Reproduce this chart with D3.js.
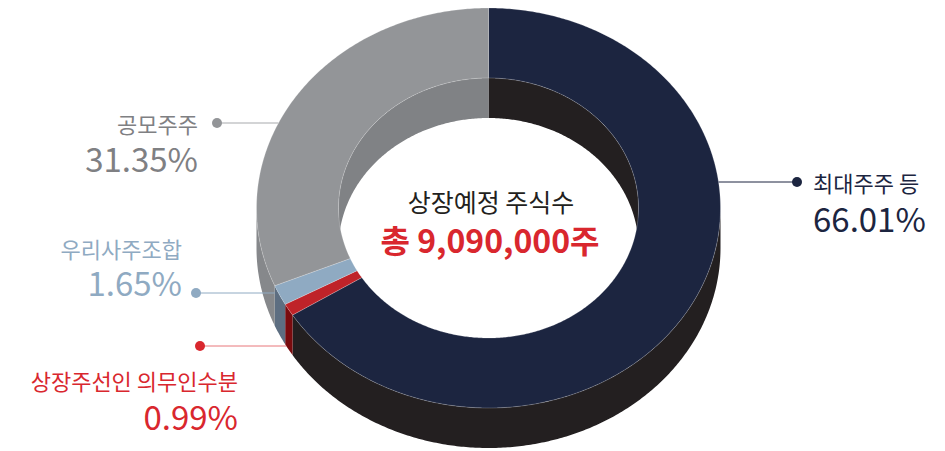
<!DOCTYPE html>
<html>
<head>
<meta charset="utf-8">
<script src="https://cdn.jsdelivr.net/npm/d3@7"></script>
<style>
  body { margin: 0; background: #fff; }
  svg { display: block; font-family: "Noto Sans CJK KR", "Noto Sans", sans-serif; }
</style>
</head>
<body>
<div id="chart"></div>
<script>
// data
const categories = ["최대주주 등", "상장주선인 의무인수분", "우리사주조합", "공모주주"];
const shares = [66.01, 0.99, 1.65, 31.35];   // percent
const centerTitle = "상장예정 주식수";
const totalShares = 9090000;

const width = 945, height = 451;

// ellipse geometry of the tilted donut
const cx = 488.5, cy = 208;
const rx = 232, ry = 200;      // outer
const irx = 150, iry = 130;    // inner
const depth = 40;

// colours
const topColor   = d3.scaleOrdinal(categories, ["#1c2540", "#bf2329", "#8faac2", "#939598"]);
const wallColor  = d3.scaleOrdinal(categories, ["#231f20", "#7a0b0e", "#5d6e81", "#86888b"]);
const innerColor = d3.scaleOrdinal(categories, ["#231f20", "#7a0b0e", "#5d6e81", "#808285"]);
const textColor  = d3.scaleOrdinal(categories, ["#1c2540", "#d9272e", "#8faac2", "#7f8083"]);
const lineColor  = d3.scaleOrdinal(categories, ["#1c2540", "#e8777b", "#8faac2", "#a7a9ac"]);
const dotColor   = d3.scaleOrdinal(categories, ["#1c2540", "#d9272e", "#8faac2", "#939598"]);

// where each label sits (layout only)
const labelLayout = [
  { dot: [797, 182], side: 1,  tx: 813, ty: 192, vy: 232 },
  { dot: [200, 346], side: -1, tx: 238, ty: 390, vy: 430 },
  { dot: [196, 293], side: -1, tx: 182, ty: 258, vy: 296 },
  { dot: [217, 123], side: -1, tx: 198, ty: 133, vy: 172 }
];

const svg = d3.select("#chart").append("svg")
  .attr("width", width)
  .attr("height", height)
  .attr("viewBox", [0, 0, width, height]);

const pie = d3.pie().sort(null).startAngle(0).endAngle(2 * Math.PI);
const arcs = pie(shares).map((d, i) => ({ ...d, name: categories[i] }));

// point on an ellipse, angle clockwise from 12 o'clock
const pt = (a, rX, rY, dy = 0) => [cx + rX * Math.sin(a), cy - rY * Math.cos(a) + dy];
function arcPts(a0, a1, rX, rY, dy) {
  const n = Math.max(2, Math.ceil((a1 - a0) / 0.01));
  return d3.range(n + 1).map(i => pt(a0 + (a1 - a0) * i / n, rX, rY, dy));
}
const line = d3.line();

function wall(a0, a1, rX, rY) {
  return line([...arcPts(a0, a1, rX, rY, 0), ...arcPts(a0, a1, rX, rY, depth).reverse()]) + "Z";
}
function topFace(a0, a1) {
  return line([...arcPts(a0, a1, rx, ry, 0), ...arcPts(a0, a1, irx, iry, 0).reverse()]) + "Z";
}
function clip(a0, a1, lo, hi) {
  const s = Math.max(a0, lo), e = Math.min(a1, hi);
  return s < e ? [s, e] : null;
}

const PI = Math.PI;

// far inner wall (seen through the hole)
const gInner = svg.append("g");
arcs.forEach(d => {
  [[0, PI / 2], [3 * PI / 2, 2 * PI]].forEach(([lo, hi]) => {
    const c = clip(d.startAngle, d.endAngle, lo, hi);
    if (c) gInner.append("path").attr("d", wall(c[0], c[1], irx, iry)).attr("fill", innerColor(d.name));
  });
});

// near outer wall
const gWall = svg.append("g");
arcs.forEach(d => {
  const c = clip(d.startAngle, d.endAngle, PI / 2, 3 * PI / 2);
  if (c) gWall.append("path").attr("d", wall(c[0], c[1], rx, ry)).attr("fill", wallColor(d.name));
});

// top faces
svg.append("g")
  .selectAll("path")
  .data(arcs)
  .join("path")
  .attr("d", d => topFace(d.startAngle, d.endAngle))
  .attr("fill", d => topColor(d.name))
  .attr("stroke", "rgba(255,255,255,0.35)")
  .attr("stroke-width", 0.6);

// outline of the whole shape on the left/right
function silhouetteX(y, side) {
  let k = 1;
  if (y < cy) k = Math.sqrt(Math.max(0, 1 - ((y - cy) / ry) ** 2));
  else if (y > cy + depth) k = Math.sqrt(Math.max(0, 1 - ((y - cy - depth) / ry) ** 2));
  return cx + side * rx * k;
}
function sliceExtremeX(d, side) {
  const xs = d3.range(0, 101).map(i => cx + rx * Math.sin(d.startAngle + (d.endAngle - d.startAngle) * i / 100));
  return side < 0 ? d3.min(xs) : d3.max(xs);
}

// labels + leader lines
const fmt = d3.format(".2f");
const gLab = svg.append("g");
arcs.forEach((d, i) => {
  const L = labelLayout[i];
  const [dx, dy] = L.dot;
  let ex = silhouetteX(dy, L.side);
  const sx = sliceExtremeX(d, L.side);
  ex = L.side < 0 ? Math.max(ex, sx) : Math.min(ex, sx);

  gLab.append("line")
    .attr("x1", ex).attr("y1", dy).attr("x2", dx).attr("y2", dy)
    .attr("stroke", lineColor(d.name)).attr("stroke-width", 1);
  gLab.append("circle")
    .attr("cx", dx).attr("cy", dy).attr("r", 5)
    .attr("fill", dotColor(d.name));

  const anchor = L.side > 0 ? "start" : "end";
  gLab.append("text")
    .attr("x", L.tx).attr("y", L.ty)
    .attr("text-anchor", anchor)
    .attr("font-size", 22)
    .attr("fill", textColor(d.name))
    .text(d.name);
  gLab.append("text")
    .attr("x", L.tx).attr("y", L.vy)
    .attr("text-anchor", anchor)
    .attr("font-size", 33)
    .attr("fill", textColor(d.name))
    .text(fmt(d.data) + "%");
});

// centre text
svg.append("text")
  .attr("x", 491).attr("y", 212)
  .attr("text-anchor", "middle")
  .attr("font-size", 25)
  .attr("fill", "#231f20")
  .text(centerTitle);
svg.append("text")
  .attr("x", 490).attr("y", 253)
  .attr("text-anchor", "middle")
  .attr("font-size", 32)
  .attr("font-weight", "bold")
  .attr("fill", "#d9272e")
  .text("총 " + d3.format(",")(totalShares) + "주");
</script>
</body>
</html>
